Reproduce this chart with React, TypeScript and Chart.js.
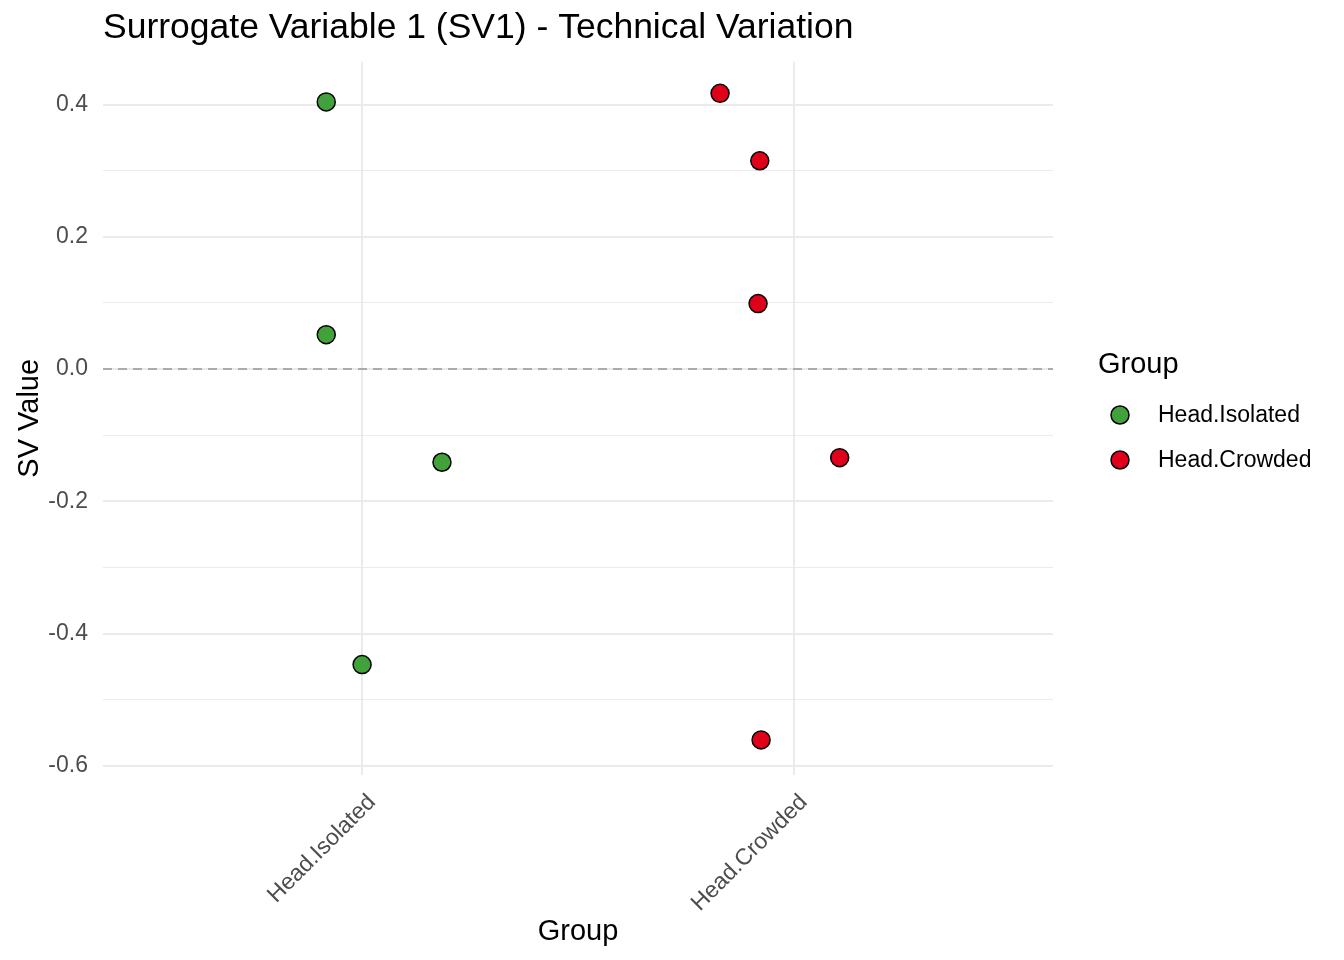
import React, { useEffect, useRef } from "react";
import { Chart, registerables } from "chart.js";

Chart.register(...registerables);

const FONT = '"Liberation Sans", Arial, Helvetica, sans-serif';

const categories = ["Head.Isolated", "Head.Crowded"];
const categoryPositions = [1, 2];
const groupNames = ["Head.Isolated", "Head.Crowded"];
const groupColors = ["#41A23C", "#DF0019"];

// jittered x positions (category index + jitter) and SV1 values
const isolatedX = [0.917, 0.917, 1.185, 1.0];
const isolatedY = [0.404, 0.052, -0.141, -0.447];
const crowdedX = [1.829, 1.921, 1.917, 2.106, 1.924];
const crowdedY = [0.417, 0.315, 0.099, -0.134, -0.561];

const yTicks = [-0.6, -0.5, -0.4, -0.3, -0.2, -0.1, 0, 0.1, 0.2, 0.3, 0.4];
const yMajorTicks = [-0.6, -0.4, -0.2, 0, 0.2, 0.4];
const refLineX = [0.4, 2.6];
const refLineY = [0, 0];

const isMajor = (v: number) => yMajorTicks.some((m) => Math.abs(m - v) < 1e-6);

const legendPlugin = {
  id: "customLegend",
  afterDraw(chart: any) {
    const ctx = chart.ctx;
    ctx.save();
    ctx.fillStyle = "#000000";
    ctx.font = `29px ${FONT}`;
    ctx.textBaseline = "middle";
    ctx.textAlign = "left";
    ctx.fillText("Group", 1098, 365);
    groupNames.forEach((name, i) => {
      const cy = 415 + i * 45;
      ctx.beginPath();
      ctx.arc(1120, cy, 9, 0, Math.PI * 2);
      ctx.fillStyle = groupColors[i];
      ctx.fill();
      ctx.lineWidth = 1.5;
      ctx.strokeStyle = "#000000";
      ctx.stroke();
      ctx.fillStyle = "#000000";
      ctx.font = `23px ${FONT}`;
      ctx.fillText(name, 1158, cy + 1);
    });
    ctx.restore();
  },
};

export default function App() {
  const ref = useRef<HTMLCanvasElement | null>(null);

  useEffect(() => {
    if (!ref.current) return;
    const chart = new Chart(ref.current, {
      type: "scatter",
      data: {
        datasets: [
          {
            type: "line",
            label: "ref",
            data: refLineX.map((x, i) => ({ x, y: refLineY[i] })),
            borderColor: "#ABABAB",
            borderWidth: 2,
            borderDash: [9, 6],
            pointRadius: 0,
            fill: false,
            order: 5,
          } as any,
          {
            label: groupNames[0],
            data: isolatedX.map((x, i) => ({ x, y: isolatedY[i] })),
            backgroundColor: groupColors[0],
            borderColor: "#000000",
            borderWidth: 1.5,
            pointRadius: 9,
            pointHoverRadius: 9,
            order: 1,
          },
          {
            label: groupNames[1],
            data: crowdedX.map((x, i) => ({ x, y: crowdedY[i] })),
            backgroundColor: groupColors[1],
            borderColor: "#000000",
            borderWidth: 1.5,
            pointRadius: 9,
            pointHoverRadius: 9,
            order: 1,
          },
        ],
      },
      options: {
        responsive: false,
        animation: false,
        devicePixelRatio: 1,
        layout: { padding: { left: 0, right: 291, top: 0, bottom: 0 } },
        plugins: {
          legend: { display: false },
          tooltip: { enabled: false },
          title: {
            display: true,
            text: "Surrogate Variable 1 (SV1) - Technical Variation",
            align: "start",
            fullSize: false,
            color: "#000000",
            font: { family: FONT, size: 35.5, weight: "normal" },
            padding: { top: 7, bottom: 12 },
          } as any,
        },
        scales: {
          x: {
            type: "linear",
            min: 0.4,
            max: 2.6,
            afterBuildTicks: (scale: any) => {
              scale.ticks = categoryPositions.map((v) => ({ value: v }));
            },
            afterFit: (scale: any) => {
              scale.height = 185;
            },
            ticks: {
              autoSkip: false,
              minRotation: 45,
              maxRotation: 45,
              padding: 14,
              labelOffset: 10,
              color: "#4D4D4D",
              font: { family: FONT, size: 23 },
              callback: (v: any) => {
                const idx = categoryPositions.indexOf(Number(v));
                return idx >= 0 ? categories[idx] : "";
              },
            },
            grid: { color: "#EBEBEB", lineWidth: 2, drawTicks: false },
            border: { display: false },
            title: {
              display: true,
              text: "Group",
              color: "#000000",
              font: { family: FONT, size: 29 },
              padding: { top: 0, bottom: 11 },
            },
          },
          y: {
            type: "linear",
            min: -0.614,
            max: 0.465,
            afterBuildTicks: (scale: any) => {
              scale.ticks = yTicks.map((v) => ({ value: v }));
            },
            afterFit: (scale: any) => {
              scale.width = 103;
            },
            ticks: {
              autoSkip: false,
              padding: 15,
              color: "#4D4D4D",
              font: { family: FONT, size: 23 },
              callback: (v: any) => (isMajor(Number(v)) ? Number(v).toFixed(1) : ""),
            },
            grid: {
              color: "#EBEBEB",
              lineWidth: (ctx: any) => (isMajor(ctx.tick ? ctx.tick.value : 0) ? 2 : 1),
              drawTicks: false,
            },
            border: { display: false },
            title: {
              display: true,
              text: "SV Value",
              color: "#000000",
              font: { family: FONT, size: 29 },
              padding: { top: 13, bottom: 0 },
            },
          },
        },
      },
      plugins: [legendPlugin],
    });
    return () => chart.destroy();
  }, []);

  return (
    <div style={{ position: "absolute", left: 0, top: 0, width: 1344, height: 960, background: "#ffffff" }}>
      <canvas ref={ref} width={1344} height={960} style={{ display: "block" }} />
    </div>
  );
}
